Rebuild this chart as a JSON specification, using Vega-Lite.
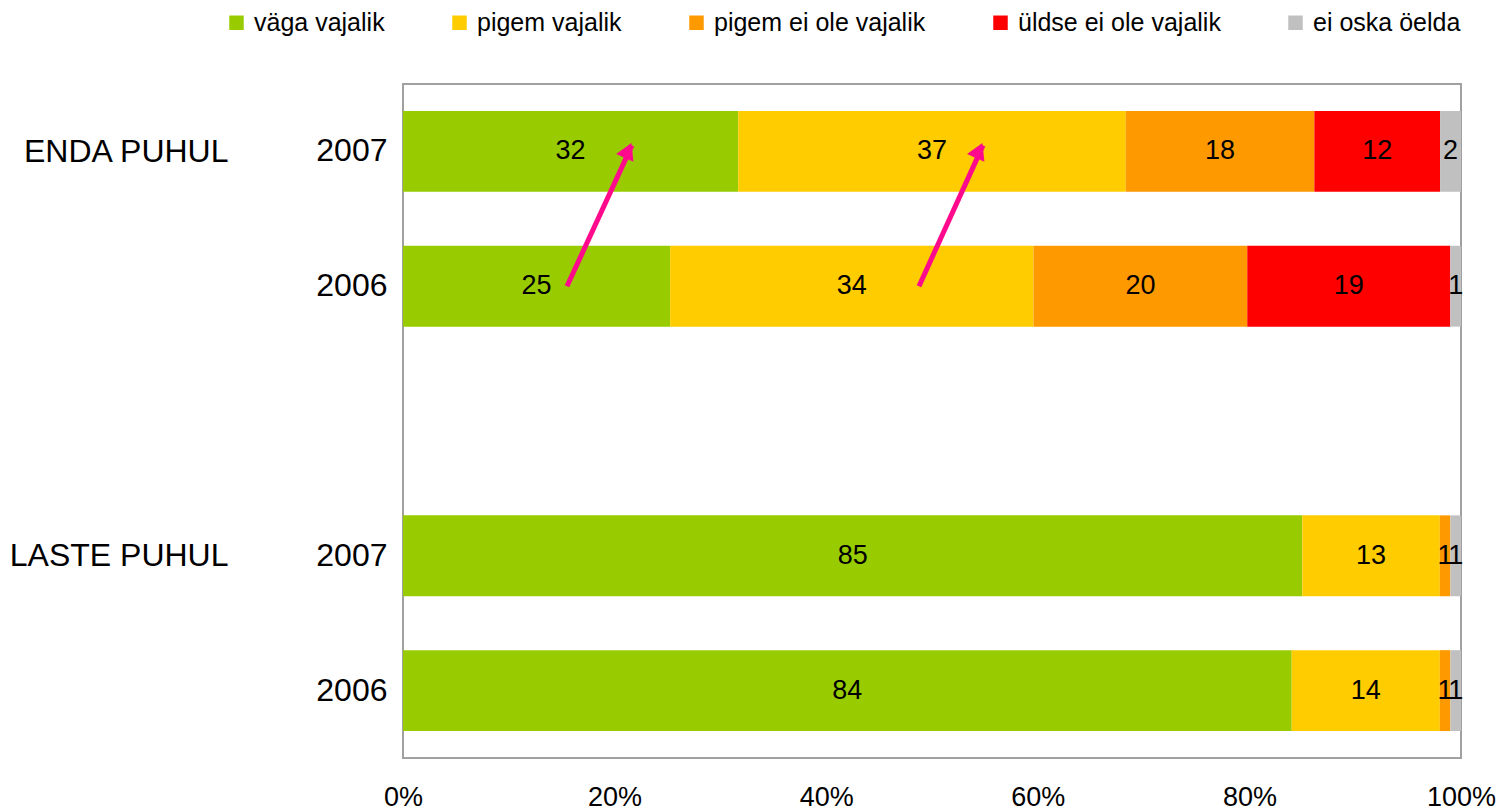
{
  "$schema": "https://vega.github.io/schema/vega-lite/v6.json",
  "width": 1058,
  "height": 674,
  "autosize": "none",
  "padding": {"left": 403, "top": 84, "right": 40, "bottom": 53},
  "background": "white",
  "config": {
    "font": "Liberation Sans",
    "view": {"stroke": "#a0a0a0", "strokeWidth": 2},
    "axis": {"domain": false, "ticks": false, "grid": false, "labelColor": "black", "labelFont": "Liberation Sans", "labelLimit": 0}
  },
  "datasets": {
    "answers": [
      {"row": "E2007", "cat": "väga vajalik", "value": 32},
      {"row": "E2007", "cat": "pigem vajalik", "value": 37},
      {"row": "E2007", "cat": "pigem ei ole vajalik", "value": 18},
      {"row": "E2007", "cat": "üldse ei ole vajalik", "value": 12},
      {"row": "E2007", "cat": "ei oska öelda", "value": 2},
      {"row": "E2006", "cat": "väga vajalik", "value": 25},
      {"row": "E2006", "cat": "pigem vajalik", "value": 34},
      {"row": "E2006", "cat": "pigem ei ole vajalik", "value": 20},
      {"row": "E2006", "cat": "üldse ei ole vajalik", "value": 19},
      {"row": "E2006", "cat": "ei oska öelda", "value": 1},
      {"row": "L2007", "cat": "väga vajalik", "value": 85},
      {"row": "L2007", "cat": "pigem vajalik", "value": 13},
      {"row": "L2007", "cat": "pigem ei ole vajalik", "value": 1},
      {"row": "L2007", "cat": "ei oska öelda", "value": 1},
      {"row": "L2006", "cat": "väga vajalik", "value": 84},
      {"row": "L2006", "cat": "pigem vajalik", "value": 14},
      {"row": "L2006", "cat": "pigem ei ole vajalik", "value": 1},
      {"row": "L2006", "cat": "ei oska öelda", "value": 1}
    ],
    "arrows": [
      {"from": "E2006", "to": "E2007", "x": 0.155, "x2": 0.2164, "hx": 0.2128},
      {"from": "E2006", "to": "E2007", "x": 0.4877, "x2": 0.5482, "hx": 0.5445}
    ],
    "groups": [
      {"row": "E2007"},
      {"row": "L2007"}
    ]
  },
  "layer": [
    {
      "layer": [
        {
          "data": {"name": "answers"},
          "transform": [
            {"calculate": "indexof(['väga vajalik','pigem vajalik','pigem ei ole vajalik','üldse ei ole vajalik','ei oska öelda'], datum.cat)", "as": "k"},
            {"stack": "value", "groupby": ["row"], "sort": [{"field": "k", "order": "ascending"}], "offset": "normalize", "as": ["x0", "x1"]},
            {"calculate": "(datum.x0 + datum.x1) / 2", "as": "mid"}
          ],
          "layer": [
            {
              "mark": {"type": "bar"},
              "encoding": {
                "y": {"field": "row", "type": "nominal", "scale": {"domain": ["E2007", "E2006", "gap", "L2007", "L2006"], "paddingInner": 0.4, "paddingOuter": 0.2},
                  "axis": {"title": null, "labelFontSize": 32, "labelPadding": 16, "labelExpr": "datum.value == 'gap' ? '' : slice(datum.value, 1)"}},
                "x": {"field": "x0", "type": "quantitative", "scale": {"domain": [0, 1]},
                  "axis": {"title": null, "format": "%", "values": [0, 0.2, 0.4, 0.6, 0.8, 1], "labelFontSize": 27, "labelPadding": 26, "labelFlush": false}},
                "x2": {"field": "x1"},
                "color": {"field": "cat", "type": "nominal",
                  "scale": {"domain": ["väga vajalik", "pigem vajalik", "pigem ei ole vajalik", "üldse ei ole vajalik", "ei oska öelda"],
                    "range": ["#99cc00", "#ffcc00", "#ff9900", "#ff0000", "#c0c0c0"]},
                  "legend": {"title": null, "orient": "none", "legendX": -179, "legendY": -74, "direction": "horizontal",
                    "symbolType": "square", "symbolSize": 210, "symbolStrokeWidth": 0, "labelFontSize": 25, "labelOffset": 5,
                    "columnPadding": 62, "labelColor": "black", "labelLimit": 0}}
              }
            },
            {
              "mark": {"type": "text", "fontSize": 27, "color": "black", "baseline": "middle", "align": "center"},
              "encoding": {
                "y": {"field": "row", "type": "nominal"},
                "x": {"field": "mid", "type": "quantitative"},
                "text": {"field": "value", "type": "quantitative"}
              }
            }
          ]
        },
        {
          "data": {"name": "arrows"},
          "layer": [
            {
              "mark": {"type": "rule", "color": "#ff0a8c", "strokeWidth": 5, "y2Offset": -6},
              "encoding": {
                "y": {"field": "from", "type": "nominal"},
                "y2": {"field": "to"},
                "x": {"field": "x", "type": "quantitative"},
                "x2": {"field": "x2"}
              }
            },
            {
              "mark": {"type": "point", "shape": "triangle-up", "filled": true, "color": "#ff0a8c", "opacity": 1, "size": 360, "angle": 24, "yOffset": -1},
              "encoding": {
                "y": {"field": "to", "type": "nominal"},
                "x": {"field": "hx", "type": "quantitative"}
              }
            }
          ]
        }
      ]
    },
    {
      "data": {"name": "groups"},
      "mark": {"type": "text", "text": ""},
      "encoding": {
        "y": {"field": "row", "type": "nominal", "scale": {"domain": ["E2007", "E2006", "gap", "L2007", "L2006"], "paddingInner": 0.4, "paddingOuter": 0.2},
          "axis": {"title": null, "orient": "left", "offset": 160, "labelPadding": 15, "labelFontSize": 32,
            "labelExpr": "datum.value == 'E2007' ? 'ENDA PUHUL' : datum.value == 'L2007' ? 'LASTE PUHUL' : ''"}}
      }
    }
  ],
  "resolve": {"scale": {"y": "independent"}, "axis": {"y": "independent"}}
}
